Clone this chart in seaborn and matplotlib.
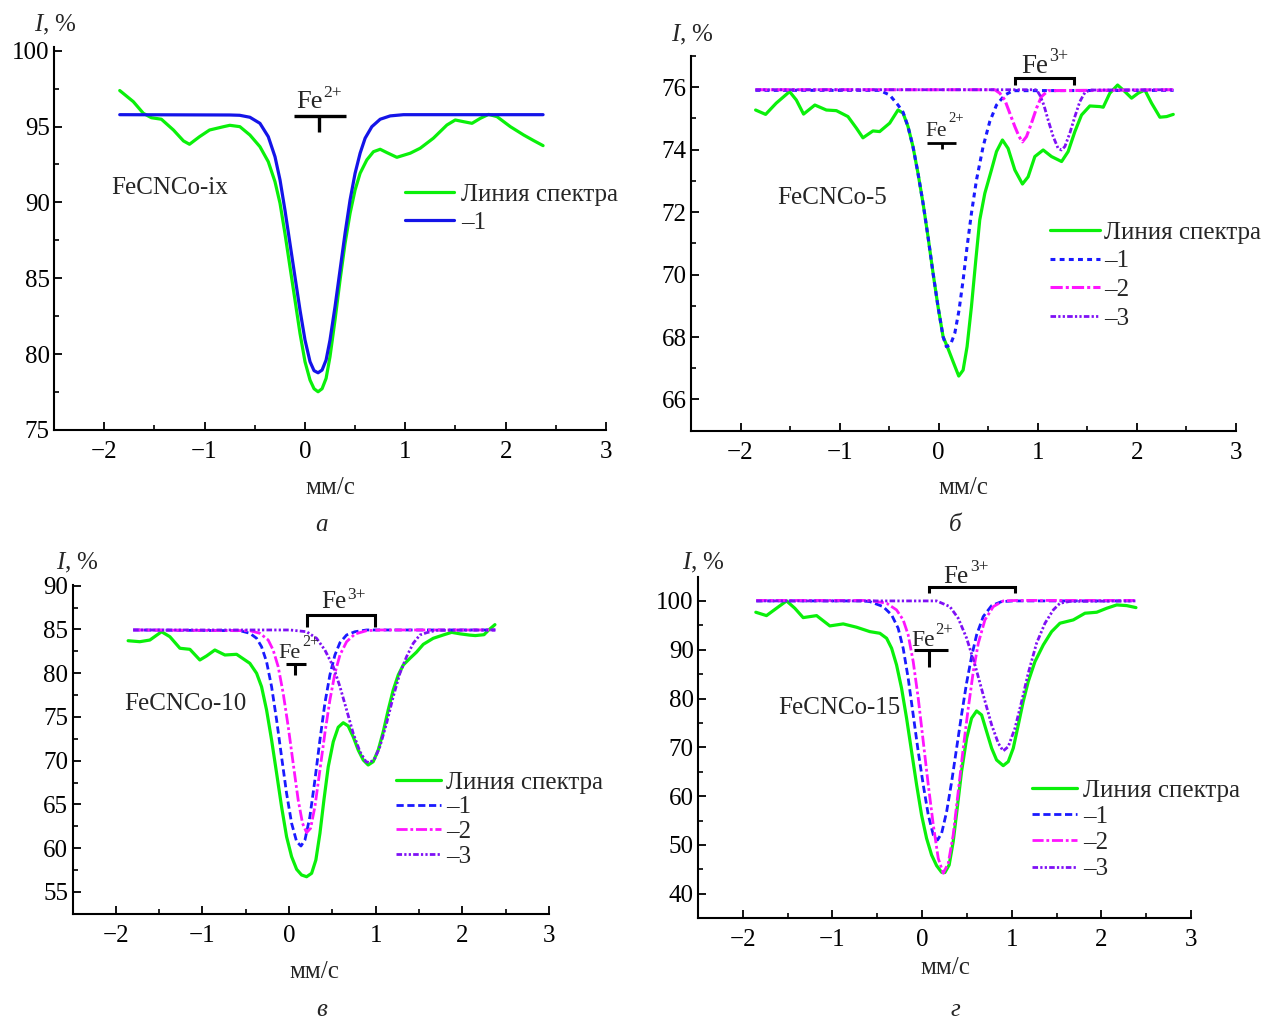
import matplotlib
matplotlib.use("Agg")
import matplotlib.pyplot as plt
from matplotlib.ticker import MultipleLocator
import seaborn as sns

W, H = 1272, 1019

# ---------------- data ----------------
# Panel а : FeCNCo-ix
a_spec_x = [-1.845, -1.71, -1.61, -1.53, -1.43, -1.31, -1.21, -1.15, -1.05, -0.95, -0.81, -0.748, -0.648,
            -0.548, -0.448, -0.365, -0.298, -0.248, -0.199, -0.149, -0.099, -0.049, 0.001, 0.051, 0.091, 0.131,
            0.171, 0.211, 0.25, 0.30, 0.35, 0.40, 0.45, 0.50, 0.55, 0.617, 0.683, 0.75, 0.817, 0.916, 1.049,
            1.149, 1.28, 1.415, 1.498, 1.58, 1.665, 1.748, 1.83, 1.914, 2.047, 2.18, 2.28, 2.373]
a_spec_y = [97.37, 96.64, 95.87, 95.58, 95.48, 94.77, 94.05, 93.83, 94.33, 94.77, 94.99, 95.08, 94.99,
            94.44, 93.67, 92.68, 91.36, 89.94, 87.96, 85.76, 83.57, 81.37, 79.50, 78.29, 77.72, 77.52,
            77.72, 78.40, 79.83, 82.25, 84.88, 87.30, 89.28, 90.82, 91.92, 92.80, 93.34, 93.50, 93.28, 92.97,
            93.24, 93.57, 94.23, 95.10, 95.43, 95.32, 95.21, 95.54, 95.80, 95.65, 94.99, 94.44, 94.07, 93.74]
a_c1_x = [-1.845, -0.748, -0.65, -0.548, -0.448, -0.365, -0.298, -0.248, -0.199, -0.149, -0.099, -0.049, 0.001,
          0.051, 0.091, 0.131, 0.171, 0.211, 0.25, 0.30, 0.35, 0.40, 0.45, 0.50, 0.55, 0.60, 0.667, 0.75, 0.85,
          0.982, 2.373]
a_c1_y = [95.78, 95.76, 95.74, 95.61, 95.21, 94.33, 93.01, 91.48, 89.50, 87.30, 85.10, 82.91, 80.93,
          79.50, 78.91, 78.77, 78.95, 79.61, 80.93, 83.12, 85.54, 87.96, 90.16, 91.92, 93.24, 94.23, 94.99,
          95.48, 95.70, 95.78, 95.78]

# Panel б : FeCNCo-5
b_spec_x = [-1.848, -1.747, -1.64, -1.505, -1.437, -1.364, -1.25, -1.134, -1.033, -0.916, -0.831, -0.765, -0.664,
            -0.596, -0.495, -0.411, -0.36, -0.31, -0.26, -0.209, -0.158, -0.108, -0.057, -0.007, 0.044, 0.094,
            0.145, 0.202, 0.246, 0.286, 0.33, 0.374, 0.414, 0.465, 0.532, 0.583, 0.643, 0.70, 0.768, 0.845,
            0.902, 0.97, 1.054, 1.138, 1.24, 1.306, 1.374, 1.441, 1.525, 1.626, 1.66, 1.727, 1.805, 1.879,
            1.946, 2.013, 2.08, 2.148, 2.232, 2.30, 2.367]
b_spec_y = [75.27, 75.13, 75.49, 75.86, 75.59, 75.14, 75.43, 75.27, 75.25, 75.06, 74.69, 74.38, 74.60,
            74.58, 74.85, 75.27, 75.17, 74.74, 74.10, 73.24, 72.28, 71.21, 70.04, 68.97, 68.01, 67.63,
            67.21, 66.75, 66.94, 67.69, 68.97, 70.46, 71.75, 72.60, 73.35, 73.94, 74.31, 74.04, 73.35, 72.90,
            73.13, 73.78, 73.99, 73.78, 73.62, 73.94, 74.58, 75.11, 75.40, 75.38, 75.36, 75.81, 76.07, 75.86,
            75.65, 75.81, 75.91, 75.49, 75.04, 75.06, 75.13]
b_c1_x = [-1.85, -0.596, -0.495, -0.411, -0.36, -0.31, -0.26, -0.209, -0.158, -0.108, -0.057, -0.007, 0.044,
          0.077, 0.118, 0.162, 0.205, 0.246, 0.286, 0.33, 0.381, 0.448, 0.515, 0.583, 0.667, 0.75, 2.37]
b_c1_y = [75.9, 75.9, 75.75, 75.43, 75.20, 74.74, 74.10, 73.24, 72.28, 71.21, 70.04, 68.97, 68.01,
          67.69, 67.75, 68.12, 68.86, 69.82, 70.89, 71.96, 73.03, 74.10, 74.90, 75.43, 75.75, 75.89, 75.9]
b_c2_x = [-1.85, 0.566, 0.616, 0.667, 0.717, 0.768, 0.811, 0.845, 0.886, 0.936, 0.987, 1.037, 1.104, 2.37]
b_c2_y = [75.92, 75.92, 75.81, 75.59, 75.17, 74.74, 74.42, 74.25, 74.42, 74.85, 75.33, 75.70, 75.89, 75.92]
b_c3_x = [-1.85, 0.987, 1.02, 1.061, 1.104, 1.155, 1.205, 1.239, 1.273, 1.323, 1.374, 1.424, 1.475, 1.525, 2.37]
b_c3_y = [75.92, 75.92, 75.75, 75.43, 74.95, 74.42, 74.04, 73.99, 74.10, 74.53, 75.06, 75.54, 75.83, 75.91, 75.92]

# Panel в : FeCNCo-10
c_spec_x = [-1.858, -1.723, -1.607, -1.472, -1.376, -1.26, -1.145, -1.03, -0.953, -0.857, -0.741, -0.606, -0.453,
            -0.375, -0.318, -0.26, -0.202, -0.144, -0.087, -0.029, 0.029, 0.087, 0.144, 0.202, 0.26, 0.309,
            0.356, 0.402, 0.452, 0.51, 0.567, 0.625, 0.682, 0.74, 0.798, 0.856, 0.913, 0.971, 1.029, 1.087,
            1.144, 1.202, 1.26, 1.318, 1.395, 1.47, 1.549, 1.664, 1.78, 1.876, 1.972, 2.088, 2.15, 2.25, 2.30,
            2.376]
c_spec_y = [83.71, 83.60, 83.79, 84.74, 84.17, 82.85, 82.73, 81.51, 81.97, 82.65, 82.08, 82.16, 81.13,
            79.99, 78.46, 75.80, 72.37, 68.56, 64.75, 61.31, 59.03, 57.59, 56.94, 56.74, 57.13, 58.65,
            61.70, 65.51, 69.31, 72.17, 73.82, 74.34, 73.97, 72.74, 71.22, 70.08, 69.51, 69.89, 71.22, 73.32,
            75.80, 78.08, 79.79, 80.94, 81.70, 82.40, 83.30, 83.99, 84.37, 84.67, 84.50, 84.35, 84.30, 84.40,
            84.90, 85.55]
c_c1_x = [-1.8, -0.568, -0.453, -0.375, -0.318, -0.26, -0.202, -0.144, -0.087, -0.029, 0.029, 0.087, 0.137,
          0.183, 0.24, 0.298, 0.356, 0.413, 0.471, 0.529, 0.587, 0.664, 0.76, 0.895, 2.38]
c_c1_y = [84.94, 84.86, 84.56, 83.99, 83.03, 81.31, 78.46, 74.65, 70.46, 66.27, 62.85, 60.75, 60.25,
          60.94, 63.60, 67.79, 72.37, 76.56, 79.79, 82.08, 83.49, 84.37, 84.74, 84.94, 84.94]
c_c2_x = [-1.8, -0.453, -0.337, -0.241, -0.184, -0.126, -0.068, -0.01, 0.047, 0.105, 0.155, 0.202, 0.248,
          0.298, 0.356, 0.413, 0.471, 0.529, 0.587, 0.664, 0.76, 0.895, 1.05, 2.38]
c_c2_y = [84.94, 84.86, 84.56, 83.79, 82.65, 80.75, 77.70, 73.89, 69.70, 65.51, 62.85, 61.78, 62.27,
          64.75, 68.94, 73.13, 76.94, 79.99, 82.08, 83.60, 84.48, 84.86, 84.94, 84.94]
c_c3_x = [-1.8, 0.01, 0.202, 0.317, 0.413, 0.51, 0.587, 0.664, 0.74, 0.818, 0.887, 0.933, 0.99, 1.048,
          1.125, 1.202, 1.279, 1.356, 1.433, 1.51, 1.588, 1.70, 2.38]
c_c3_y = [84.94, 84.94, 84.74, 83.99, 82.65, 80.75, 78.46, 75.80, 73.13, 71.03, 69.89, 69.77, 70.27, 71.60,
          74.27, 77.31, 79.99, 81.89, 83.42, 84.37, 84.63, 84.90, 84.94]

# Panel г : FeCNCo-15
d_spec_x = [-1.855, -1.736, -1.624, -1.512, -1.42, -1.327, -1.177, -1.029, -0.88, -0.731, -0.583, -0.471, -0.396,
            -0.34, -0.285, -0.229, -0.173, -0.117, -0.061, -0.006, 0.05, 0.106, 0.162, 0.218, 0.254, 0.302,
            0.347, 0.392, 0.44, 0.497, 0.552, 0.608, 0.664, 0.72, 0.776, 0.831, 0.905, 0.961, 1.017, 1.073,
            1.128, 1.184, 1.259, 1.352, 1.445, 1.538, 1.687, 1.817, 1.948, 2.06, 2.171, 2.283, 2.386]
d_spec_y = [97.68, 96.99, 98.50, 100.0, 98.50, 96.58, 96.99, 94.88, 95.29, 94.61, 93.71, 93.37, 92.35,
            90.30, 86.89, 82.11, 75.96, 69.12, 62.30, 56.15, 51.37, 47.95, 45.76, 44.40, 44.35, 45.90,
            50.68, 57.52, 65.02, 71.86, 75.96, 77.46, 76.64, 73.22, 69.82, 67.42, 66.25, 67.07, 69.82, 74.59,
            79.37, 83.46, 87.56, 90.98, 93.71, 95.43, 96.11, 97.48, 97.68, 98.50, 99.18, 99.04, 98.63]
d_c1_x = [-1.85, -0.657, -0.583, -0.434, -0.34, -0.267, -0.211, -0.155, -0.099, -0.043, 0.013, 0.069, 0.125,
          0.173, 0.218, 0.274, 0.33, 0.385, 0.44, 0.496, 0.552, 0.608, 0.682, 0.776, 0.887, 1.02, 2.38]
d_c1_y = [100.0, 100.0, 99.86, 98.83, 97.13, 94.41, 90.30, 84.16, 76.64, 69.12, 62.30, 56.15, 52.05,
          51.02, 52.40, 56.83, 62.98, 69.82, 76.64, 83.14, 88.59, 93.03, 96.79, 99.04, 99.86, 100.0, 100.0]
d_c2_x = [-1.85, -0.583, -0.396, -0.285, -0.211, -0.155, -0.099, -0.043, 0.013, 0.069, 0.125, 0.18, 0.236,
          0.292, 0.347, 0.403, 0.459, 0.515, 0.571, 0.627, 0.701, 0.794, 0.905, 1.05, 2.38]
d_c2_y = [100.1, 100.1, 99.53, 98.16, 96.11, 93.03, 87.56, 80.06, 71.17, 62.30, 54.10, 47.27, 44.20,
          46.25, 52.05, 60.93, 69.82, 78.01, 85.52, 91.33, 96.11, 98.83, 100.0, 100.1, 100.1]
d_c3_x = [-1.85, -0.025, 0.162, 0.31, 0.403, 0.497, 0.59, 0.682, 0.776, 0.85, 0.905, 0.961, 1.036, 1.11,
          1.184, 1.277, 1.371, 1.464, 1.538, 1.65, 2.38]
d_c3_y = [100.0, 100.0, 100.0, 98.83, 96.45, 92.36, 86.89, 80.74, 74.59, 70.84, 69.26, 70.14, 73.91, 79.37,
          85.18, 91.33, 95.43, 98.16, 99.53, 99.9, 100.0]

legend_labels = ["Линия спектра", "–1", "–2", "–3"]
sample_names = ["FeCNCo-ix", "FeCNCo-5", "FeCNCo-10", "FeCNCo-15"]
panel_letters = ["а", "б", "в", "г"]
x_ticks = [-2, -1, 0, 1, 2, 3]

# ---------------- style ----------------
sns.set_style("ticks")
plt.rcParams['font.family'] = ['Liberation Serif', 'DejaVu Serif']
plt.rcParams['mathtext.fontset'] = 'custom'
plt.rcParams['mathtext.rm'] = 'Liberation Serif'
plt.rcParams['mathtext.it'] = 'Liberation Serif:italic'
plt.rcParams['mathtext.bf'] = 'Liberation Serif:bold'
plt.rcParams['axes.unicode_minus'] = True

GREEN = "#0af00a"
BLUE_SOLID = "#1414e8"
BLUE = "#1a1aff"
MAGENTA = "#ff14ff"
VIOLET = "#7f10f5"
FS = 18

fig = plt.figure(figsize=(W / 100, H / 100), dpi=100)
renderer = fig.canvas.get_renderer()


def P(px, py):
    return (px / W, 1 - py / H)


def rect(l, r, t, b):
    return [l / W, 1 - b / H, (r - l) / W, (b - t) / H]


def make_axes(r, ylim, ymaj, ymin):
    ax = fig.add_axes(r)
    ax.set_xlim(-2.5, 3.0)
    ax.set_ylim(*ylim)
    ax.set_xticks(x_ticks)
    ax.xaxis.set_minor_locator(MultipleLocator(0.5))
    ax.yaxis.set_major_locator(MultipleLocator(ymaj))
    ax.yaxis.set_minor_locator(MultipleLocator(ymin))
    for s in ["top", "right"]:
        ax.spines[s].set_visible(False)
    for s in ["left", "bottom"]:
        ax.spines[s].set_linewidth(1.5)
        ax.spines[s].set_color("black")
    ax.tick_params(which="major", direction="in", length=6, width=1.3, labelsize=FS, colors="black")
    ax.tick_params(which="minor", direction="in", length=3.5, width=1.2, colors="black")
    ax.tick_params(axis="x", which="major", pad=8)
    ax.tick_params(axis="y", which="major", pad=3)
    ax.patch.set_alpha(0)
    return ax


def draw(ax, x, y, color, lw, ls, label):
    sns.lineplot(x=x, y=y, ax=ax, color=color, linewidth=lw, linestyle=ls, label=label,
                 sort=False, estimator=None)
    ax.set_xlabel("")
    ax.set_ylabel("")


def t_mark(ax, x0, x1, y, xt, y2, lw=2.0):
    ax.plot([x0, x1], [y, y], color="black", lw=lw, clip_on=False, solid_capstyle="butt")
    ax.plot([xt, xt], [y, y2], color="black", lw=lw, clip_on=False, solid_capstyle="butt")


def bracket(ax, x0, x1, y, y2, lw=2.0):
    ax.plot([x0, x0, x1, x1], [y2, y, y, y2], color="black", lw=lw, clip_on=False,
            solid_capstyle="butt", solid_joinstyle="miter")


def fe_label(charge, fe_left, baseline, sup_top, fs, sfs):
    t = fig.text(*P(fe_left, baseline), "Fe", ha="left", va="baseline", fontsize=fs)
    bb = t.get_window_extent(renderer=renderer)
    sup_left = bb.x1 + 1.0
    fig.text(sup_left / W, 1 - (sup_top - 3) / H, charge, ha="left", va="top", fontsize=sfs)


def legend(ax, anchor, hl, tp, ls):
    ax.legend(loc="upper left", bbox_to_anchor=P(*anchor), bbox_transform=fig.transFigure,
              frameon=False, borderpad=0, borderaxespad=0, handlelength=hl, handletextpad=tp,
              labelspacing=ls, fontsize=FS)


DASH1 = (0, (2.6, 1.3))
DASH1B = (0, (1.6, 1.4))
DASH2 = (0, (4.0, 1.0, 1.0, 1.0))
DASH3 = (0, (2.0, 0.8, 0.8, 0.8, 0.8, 0.8))

# ---------------- panel а ----------------
ax = make_axes(rect(54, 606, 46.7, 430), (75, 100.26), 5, 2.5)
draw(ax, a_spec_x, a_spec_y, GREEN, 2.3, "-", legend_labels[0])
draw(ax, a_c1_x, a_c1_y, BLUE_SOLID, 2.3, "-", legend_labels[1])
legend(ax, (405, 183), 1.96, 0.28, 0.24)
t_mark(ax, -0.109, 0.405, 95.72, 0.141, 94.66, lw=2.4)
fe_label("2+", 296, 108, 88, 19, 12.5)
fig.text(*P(111, 188), sample_names[0], ha="left", va="center", fontsize=FS)
fig.text(*P(330, 488), "мм/с", ha="center", va="center", fontsize=FS)
fig.text(*P(55, 25), "$I$, %", ha="center", va="center", fontsize=FS)
fig.text(*P(322, 525), panel_letters[0], ha="center", va="center", fontsize=FS, style="italic")

# ---------------- panel б ----------------
ax = make_axes(rect(691, 1236, 56, 430.7), (65.0, 77.0), 2, 1)
draw(ax, b_spec_x, b_spec_y, GREEN, 2.3, "-", legend_labels[0])
draw(ax, b_c1_x, b_c1_y, BLUE, 2.2, DASH1B, legend_labels[1])
draw(ax, b_c2_x, b_c2_y, MAGENTA, 2.2, DASH2, legend_labels[2])
draw(ax, b_c3_x, b_c3_y, VIOLET, 2.0, DASH3, legend_labels[3])
legend(ax, (1050, 221), 2.0, 0.18, 0.25)
t_mark(ax, -0.116, 0.178, 74.22, 0.038, 74.02, lw=2.0)
fe_label("2+", 925.4, 136, 115, 15.5, 10.5)
bracket(ax, 0.768, 1.364, 76.29, 76.07, lw=2.2)
fe_label("3+", 1021, 73, 50.7, 19.5, 13)
fig.text(*P(777, 198), sample_names[1], ha="left", va="center", fontsize=FS)
fig.text(*P(963, 488), "мм/с", ha="center", va="center", fontsize=FS)
fig.text(*P(692, 35), "$I$, %", ha="center", va="center", fontsize=FS)
fig.text(*P(955, 525), panel_letters[1], ha="center", va="center", fontsize=FS, style="italic")

# ---------------- panel в ----------------
ax = make_axes(rect(72.5, 549, 585, 914), (52.48, 90.08), 5, 2.5)
draw(ax, c_spec_x, c_spec_y, GREEN, 2.3, "-", legend_labels[0])
draw(ax, c_c1_x, c_c1_y, BLUE, 2.0, DASH1, legend_labels[1])
draw(ax, c_c2_x, c_c2_y, MAGENTA, 2.0, DASH2, legend_labels[2])
draw(ax, c_c3_x, c_c3_y, VIOLET, 2.0, DASH3, legend_labels[3])
legend(ax, (396, 771), 1.78, 0.22, 0.09)
bracket(ax, 0.201, 0.995, 86.65, 85.28, lw=2.2)
fe_label("3+", 321, 608, 590, 18, 12.5)
t_mark(ax, -0.04, 0.20, 81.05, 0.067, 79.8, lw=2.2)
fe_label("2+", 278.7, 658, 637, 16, 11.5)
fig.text(*P(124, 704), sample_names[2], ha="left", va="center", fontsize=FS)
fig.text(*P(314, 972), "мм/с", ha="center", va="center", fontsize=FS)
fig.text(*P(77, 563), "$I$, %", ha="center", va="center", fontsize=FS)
fig.text(*P(322, 1010), panel_letters[2], ha="center", va="center", fontsize=FS, style="italic")

# ---------------- panel г ----------------
ax = make_axes(rect(698, 1191, 577, 918), (35.04, 104.9), 10, 5)
draw(ax, d_spec_x, d_spec_y, GREEN, 2.3, "-", legend_labels[0])
draw(ax, d_c1_x, d_c1_y, BLUE, 2.0, DASH1, legend_labels[1])
draw(ax, d_c2_x, d_c2_y, MAGENTA, 2.0, DASH2, legend_labels[2])
draw(ax, d_c3_x, d_c3_y, VIOLET, 2.0, DASH3, legend_labels[3])
legend(ax, (1031.5, 779), 1.82, 0.24, 0.15)
bracket(ax, 0.076, 1.036, 102.93, 101.64, lw=2.2)
fe_label("3+", 943.6, 583, 562, 18, 12.5)
t_mark(ax, -0.092, 0.285, 89.96, 0.073, 86.54, lw=2.2)
fe_label("2+", 911, 646, 625, 17, 12)
fig.text(*P(778, 708), sample_names[3], ha="left", va="center", fontsize=FS)
fig.text(*P(945, 968), "мм/с", ha="center", va="center", fontsize=FS)
fig.text(*P(703, 563), "$I$, %", ha="center", va="center", fontsize=FS)
fig.text(*P(955, 1010), panel_letters[3], ha="center", va="center", fontsize=FS, style="italic")

fig.savefig("out.png", dpi=100, facecolor="white")
